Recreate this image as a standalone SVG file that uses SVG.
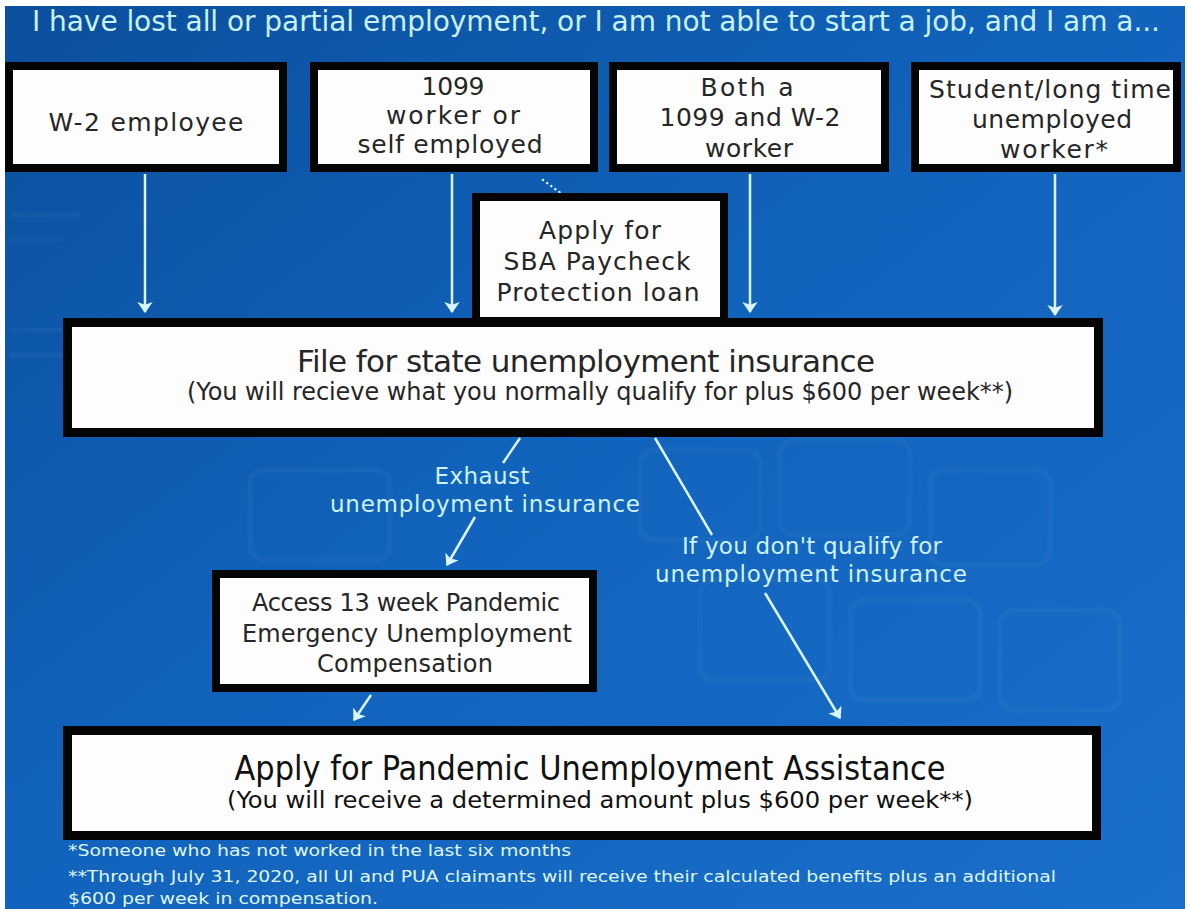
<svg xmlns="http://www.w3.org/2000/svg" width="1187" height="909" viewBox="0 0 1187 909">
<defs>
<linearGradient id="bg" x1="0" y1="0" x2="1" y2="1">
<stop offset="0" stop-color="#0b4f9d"/>
<stop offset="0.45" stop-color="#1162bb"/>
<stop offset="1" stop-color="#1a6fca"/>
</linearGradient>
<marker id="ah" viewBox="0 0 10 14" refX="9" refY="7" markerWidth="11" markerHeight="16" orient="auto" markerUnits="userSpaceOnUse">
<path d="M0,0 L10,7 L0,14 L2.5,7 z" fill="#d8f6fb"/>
</marker>
<style>
.box{fill:#fdfdfd;stroke:#050505;stroke-width:8}
.big{fill:#fdfdfd;stroke:#050505;stroke-width:9}
.bt{font-family:"DejaVu Sans","Liberation Sans",sans-serif;font-size:25px;fill:#262626;text-anchor:middle}
.lt{font-family:"DejaVu Sans","Liberation Sans",sans-serif;font-size:23px;fill:#cdf3f8;text-anchor:middle}
.cn{font-family:"Liberation Sans Narrow","DejaVu Sans Condensed","Liberation Sans",sans-serif;fill:#111;text-anchor:middle}
.fn{font-family:"Liberation Sans Narrow","DejaVu Sans Condensed","Liberation Sans",sans-serif;font-size:16px;fill:#dff7fb}
.ln{stroke:#d8f6fb;stroke-width:2.5;fill:none}
.kb{fill:none;stroke:#ffffff;stroke-opacity:0.03;stroke-width:5}
</style>
</defs>
<rect x="0" y="0" width="1187" height="909" fill="#ffffff"/>
<rect x="5" y="6" width="1180" height="903" fill="url(#bg)"/>
<g id="background-pattern">
<rect class="kb" x="640" y="450" width="120" height="90" rx="14"/>
<rect class="kb" x="780" y="440" width="130" height="95" rx="14"/>
<rect class="kb" x="930" y="470" width="120" height="95" rx="14"/>
<rect class="kb" x="700" y="580" width="130" height="100" rx="14"/>
<rect class="kb" x="850" y="600" width="130" height="100" rx="14"/>
<rect class="kb" x="1000" y="610" width="120" height="100" rx="14"/>
<rect class="kb" x="250" y="470" width="140" height="90" rx="14"/>
<path class="kb" d="M10,215 H80 M10,240 H60 M10,330 H90 M10,355 H70"/>
</g>
<text x="32" y="31" font-family="'DejaVu Sans','Liberation Sans',sans-serif" font-size="28" fill="#c9f2f8" textLength="1128">I have lost all or partial employment, or I am not able to start a job, and I am a...</text>
<g id="connectors">
<path class="ln" d="M145,174 V312" marker-end="url(#ah)"/>
<path class="ln" d="M452,174 V312" marker-end="url(#ah)"/>
<path class="ln" d="M750,174 V312" marker-end="url(#ah)"/>
<path class="ln" d="M1055,174 V315" marker-end="url(#ah)"/>
<path d="M543,180 L562,194" stroke="#d8f6fb" stroke-width="2.5" stroke-dasharray="0.1,5" stroke-linecap="round" fill="none"/>
<path class="ln" d="M520,438 L503,463"/>
<path class="ln" d="M475,517 L447,565" marker-end="url(#ah)"/>
<path class="ln" d="M655,438 L712,535"/>
<path class="ln" d="M765,593 L840,718" marker-end="url(#ah)"/>
<path class="ln" d="M371,695 L354,720" marker-end="url(#ah)"/>
</g>
<g id="node-w2">
<rect class="box" x="9" y="66" width="274" height="102"/>
<text class="bt" x="146" y="131" textLength="195">W-2 employee</text>
</g>
<g id="node-1099">
<rect class="box" x="314" y="66" width="280" height="102"/>
<text class="bt" x="453" y="95" textLength="63">1099</text>
<text class="bt" x="453" y="124" textLength="134">worker or</text>
<text class="bt" x="450" y="153" textLength="185">self employed</text>
</g>
<g id="node-both">
<rect class="box" x="613" y="66" width="272" height="102"/>
<text class="bt" x="747" y="96" textLength="93">Both a</text>
<text class="bt" x="750" y="126" textLength="181">1099 and W-2</text>
<text class="bt" x="749" y="157" textLength="88">worker</text>
</g>
<g id="node-student">
<rect class="box" x="915" y="66" width="262" height="102"/>
<text class="bt" x="1050" y="98" textLength="242">Student/long time</text>
<text class="bt" x="1052" y="128" textLength="160">unemployed</text>
<text class="bt" x="1054" y="158" textLength="108">worker*</text>
</g>
<g id="node-sba">
<rect class="box" x="476" y="197" width="248" height="124"/>
<text class="bt" x="600" y="239" textLength="122">Apply for</text>
<text class="bt" x="597" y="270" textLength="187">SBA Paycheck</text>
<text class="bt" x="598" y="301" textLength="203">Protection loan</text>
</g>
<g id="node-file">
<rect class="big" x="67.5" y="322.5" width="1031" height="110"/>
<text class="bt" x="586" y="372" style="font-size:31px" fill="#111" textLength="578">File for state unemployment insurance</text>
<text class="bt" x="600" y="400" style="font-size:24px" textLength="826">(You will recieve what you normally qualify for plus $600 per week**)</text>
</g>
<g id="label-exhaust">
<text class="lt" x="482" y="484" textLength="95">Exhaust</text>
<text class="lt" x="485" y="512" textLength="310">unemployment insurance</text>
</g>
<g id="label-noqualify">
<text class="lt" x="812" y="554" textLength="260">If you don't qualify for</text>
<text class="lt" x="811" y="582" textLength="312">unemployment insurance</text>
</g>
<g id="node-peuc">
<rect class="box" x="216" y="574" width="377" height="114"/>
<text class="bt" x="406" y="611" style="font-size:24px" textLength="308">Access 13 week Pandemic</text>
<text class="bt" x="407" y="642" style="font-size:24px" textLength="330">Emergency Unemployment</text>
<text class="bt" x="405" y="672" style="font-size:24px" textLength="176">Compensation</text>
</g>
<g id="node-pua">
<rect class="big" x="67.5" y="730.5" width="1029" height="105"/>
<text class="cn" x="590" y="780" font-size="33" textLength="711" lengthAdjust="spacingAndGlyphs">Apply for Pandemic Unemployment Assistance</text>
<text class="cn" x="600" y="808" font-size="23" textLength="746" lengthAdjust="spacingAndGlyphs">(You will receive a determined amount  plus $600 per week**)</text>
</g>
<g id="footnotes">
<text class="fn" x="68" y="856" textLength="503" lengthAdjust="spacingAndGlyphs">*Someone who has not worked in the last six months</text>
<text class="fn" x="68" y="882" textLength="988" lengthAdjust="spacingAndGlyphs">**Through July 31, 2020, all UI and PUA claimants will receive their calculated benefits plus an additional</text>
<text class="fn" x="68" y="904" textLength="310" lengthAdjust="spacingAndGlyphs">$600 per week in compensation.</text>
</g>
</svg>
